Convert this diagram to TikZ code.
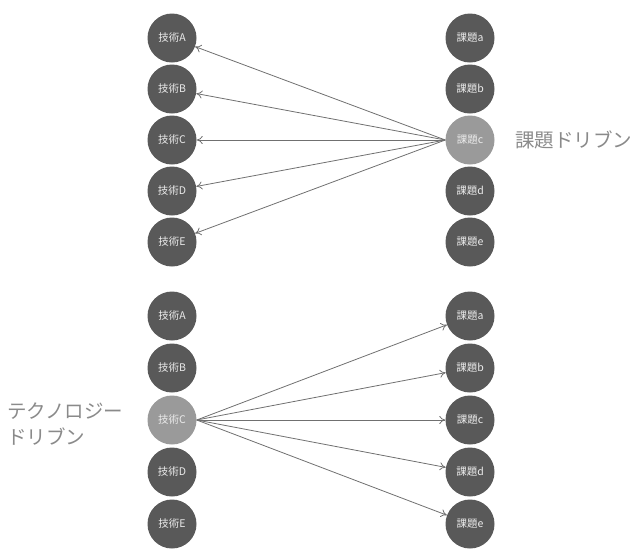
\documentclass[tikz,border=0pt]{standalone}
\usepackage{fontspec}
\setmainfont{Noto Sans CJK JP}
\usetikzlibrary{arrows.meta}
\definecolor{darkc}{HTML}{595959}
\definecolor{litec}{HTML}{9A9A9A}
\definecolor{linec}{HTML}{707070}
\definecolor{labc}{HTML}{8A8A8A}
\tikzset{
  ball/.style={circle, fill=darkc, minimum size=49pt, inner sep=0pt, text=white!85!gray, font=\fontsize{10.5}{11}\selectfont},
  hiball/.style={ball, fill=litec},
  conn/.style={draw=linec, line width=0.8pt, -{To[length=6pt,width=8pt]}},
  lab/.style={text=labc, font=\fontsize{19.5}{26}\selectfont, inner sep=0pt}
}
\begin{document}
\begin{tikzpicture}[x=1pt,y=-1pt]
\useasboundingbox (0,0) rectangle (634,552);
% top group
\node[ball] (tA1) at (172,38) {技術A};
\node[ball] (tB1) at (172,89) {技術B};
\node[ball] (tC1) at (172,140) {技術C};
\node[ball] (tD1) at (172,191) {技術D};
\node[ball] (tE1) at (172,242) {技術E};
\node[ball] (ka1) at (470,38) {課題a};
\node[ball] (kb1) at (470,89) {課題b};
\node[hiball] (kc1) at (470,140) {課題c};
\node[ball] (kd1) at (470,191) {課題d};
\node[ball] (ke1) at (470,242) {課題e};
\node[lab, anchor=west] (l1) at (515,140) {課題ドリブン};
\foreach \t in {tA1,tB1,tC1,tD1,tE1}{\draw[conn] (kc1.west) -- (\t);}
% bottom group
\node[ball] (tA2) at (172,316) {技術A};
\node[ball] (tB2) at (172,368) {技術B};
\node[hiball] (tC2) at (172,420) {技術C};
\node[ball] (tD2) at (172,472) {技術D};
\node[ball] (tE2) at (172,524) {技術E};
\node[ball] (ka2) at (470,316) {課題a};
\node[ball] (kb2) at (470,368) {課題b};
\node[ball] (kc2) at (470,420) {課題c};
\node[ball] (kd2) at (470,472) {課題d};
\node[ball] (ke2) at (470,524) {課題e};
\node[lab, anchor=west, align=left] (l2) at (7,424) {テクノロジー\\ドリブン};
\foreach \k in {ka2,kb2,kc2,kd2,ke2}{\draw[conn] (tC2.east) -- (\k);}
\end{tikzpicture}
\end{document}
